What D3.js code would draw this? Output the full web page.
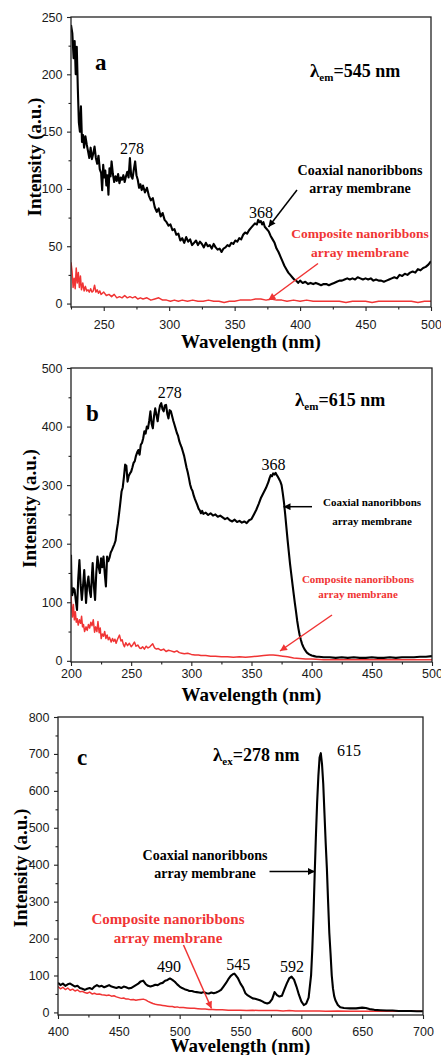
<!DOCTYPE html>
<html>
<head>
<meta charset="utf-8">
<script src="https://cdn.jsdelivr.net/npm/d3@7"></script>
<style>
  html, body { margin: 0; padding: 0; background: #fff; }
  svg { display: block; }
</style>
</head>
<body>
<svg id="chart" width="441" height="1055"></svg>
<script>
// ---------------------------------------------------------------
// Spectra: [wavelength (nm), intensity (a.u.)]
// ---------------------------------------------------------------

// (a) excitation spectra monitored at 545 nm
const excA_coaxial = [
  [225,243],[226,236],[227,214],[227.8,229],[228.6,200],[229.4,224],[230.2,188],[231,158],[231.8,150],[232.6,172],
  [233.4,141],[234.2,147],[235,136],[236,146],[237,139],[238,133],[239,127],[240,136],[241,126],[242,131],
  [243,137],[244,127],[245,122],[246,129],[247,117],[248,114],[248.8,99],[249.6,121],[250.4,110],[251.2,116],
  [252,103],[252.8,112],[253.6,95],[254.4,118],[255.2,111],[256,124],[257,113],[258,106],[259,111],[260,107],
  [261,113],[262,105],[263,110],[264,108],[265,112],[266,106],[267,111],[268,115],[269,110],[270,127],
  [271,111],[272,109],[273,117],[274,124],[275,112],[276,108],[277,101],[278,104],[279,99],[280,103],
  [281.5,97],[283,101],[284.5,94],[286,90],[287.5,92],[289,84],[290.5,80],[292,83],[293.5,76],[295,79],
  [296.5,73],[298,71],[299.5,68],[301,69],[302.5,64],[304,65],[305.5,60],[307,61],[308.5,55],[310,57],
  [311.5,53],[313,58],[314.5,54],[316,56],[317.5,51],[319,53],[320.5,55],[322,51],[323.5,54],[325,52],
  [326.5,49],[328,53],[329.5,50],[331,51],[332.5,48],[334,52],[335.5,49],[337,47],[338.5,48],[340,45],
  [341.5,48],[343,49],[344.5,51],[346,50],[347.5,53],[349,52],[350.5,55],[352,54],[353.5,57],[355,56],
  [356.5,60],[358,62],[359.5,61],[361,64],[362.5,66],[364,68],[365.5,70],[367,69],[368,73],[369,71],
  [370,72],[371,69],[372,71],[373,67],[374.5,65],[376,63],[377.5,59],[379,56],[380.5,53],[382,48],
  [383.5,45],[385,41],[386.5,37],[388,33],[389.5,30],[391,27],[392.5,25],[394,23],[395.5,21],[397,20],
  [398.5,18],[400,20],[402,18],[404,19],[406,17],[408,18],[410,17],[412,18],[414,17],[416,16],
  [418,17],[420,17],[422,16],[424,17],[426,18],[428,19],[430,20],[432,20],[434,21],[436,22],
  [438,21],[440,22],[442,21],[444,23],[446,22],[448,21],[450,22],[452,21],[454,22],[456,20],
  [458,21],[460,20],[462,20],[464,19],[466,20],[468,21],[470,22],[472,23],[474,22],[476,25],
  [478,24],[480,26],[482,25],[484,27],[486,28],[488,27],[490,30],[492,29],[494,31],[496,32],
  [498,34],[500,37]
];
const excA_composite = [
  [225,36],[225.8,28],[226.6,14],[227.4,22],[228.2,13],[229,31],[229.8,18],[230.6,27],[231.4,14],[232.2,24],
  [233,12],[234,18],[235,11],[236,15],[237,11],[238,12],[239,10],[240,13],[241,10],[242,11],
  [243,16],[244,10],[245,12],[246,9],[247,11],[248,8],[249,9],[250,10],[252,7],[254,8],
  [256,6],[258,8],[260,5],[262,6],[264,5],[266,7],[268,5],[270,6],[272,5],[274,6],
  [276,4],[278,5],[280,4],[283,5],[286,3],[289,4],[292,5],[295,3],[298,3],[301,2],
  [304,3],[307,2],[310,3],[314,2],[318,3],[322,2],[326,2],[330,3],[334,2],[338,2],
  [342,1],[346,2],[350,2],[354,3],[358,3],[362,3],[366,4],[370,4],[374,3],[378,4],
  [382,3],[386,3],[390,2],[395,3],[400,2],[405,3],[410,2],[415,2],[420,2],[425,2],
  [430,2],[435,1],[440,2],[445,2],[450,2],[455,1],[460,2],[465,2],[470,2],[475,2],
  [480,2],[485,2],[490,1],[495,2],[500,2]
];

// (b) excitation spectra monitored at 615 nm
const excB_coaxial = [
  [200,181],[200.5,120],[201,112],[202,124],[203,121],[204,103],[205,87],[206,140],[207,172],[208,130],
  [209,104],[210,128],[211,155],[212,118],[212.5,99],[213.5,130],[214.5,144],[215.5,120],[216.5,109],[217.5,150],
  [218,167],[219,128],[220,104],[221,150],[222,178],[223,160],[224,150],[225,175],[226,160],[227,178],
  [228,150],[229,127],[230,178],[231,170],[232,176],[233,185],[234,189],[235,194],[236,199],[237,205],
  [238,222],[239,235],[240,252],[241,270],[242,289],[243,296],[244,314],[245,335],[246,333],[247,306],
  [248,316],[249,320],[250,323],[251,330],[252,338],[253,341],[254,350],[255,356],[256,360],[257,352],
  [258,369],[259,372],[260,380],[261,392],[262,388],[263,400],[264,397],[265,410],[266,426],[267,405],
  [268,397],[269,418],[270,431],[271,420],[272,409],[273,425],[274,436],[275,440],[276,430],[277,426],
  [278,436],[279,437],[280,422],[281,414],[282,428],[283,426],[284,418],[285,410],[286,403],[287,396],
  [288,389],[289,384],[290,375],[291,369],[292,364],[293,357],[294,350],[295,340],[296,330],[297,322],
  [298,312],[299,301],[300,294],[301,290],[302,282],[303,276],[304,271],[305,266],[306,260],[307,257],
  [308,252],[309,256],[310,251],[312,253],[314,249],[316,252],[318,248],[320,250],[322,246],[324,248],
  [326,245],[328,242],[330,244],[332,240],[334,238],[336,241],[338,237],[340,239],[342,236],[344,238],
  [346,235],[348,240],[350,242],[352,250],[354,258],[356,268],[358,279],[360,287],[362,295],[363,300],
  [364,305],[365,312],[366,317],[367,315],[368,320],[369,318],[370,321],[371,317],[372,314],[373,310],
  [374,306],[375,300],[376,286],[377,270],[378,250],[379,228],[380,206],[381,186],[382,166],[383,149],
  [384,132],[385,115],[386,99],[387,84],[388,68],[389,55],[390,44],[391,36],[392,29],[393,24],
  [394,20],[395,17],[396,14],[398,11],[400,9],[402,8],[404,7],[406,7],[410,6],[415,6],
  [420,5],[425,6],[430,5],[435,6],[440,5],[445,5],[450,6],[455,5],[460,5],[465,6],
  [470,5],[475,6],[480,6],[485,6],[490,7],[495,7],[500,8]
];
const excB_composite = [
  [200,112],[200.6,90],[201.2,75],[202,96],[202.8,70],[203.6,84],[204.4,66],[205.2,72],[206,61],[207,70],
  [208,64],[208.8,76],[209.6,58],[210.4,62],[211.3,50],[212.5,58],[213.5,52],[214.5,62],[215.5,56],[216.5,66],
  [217.5,60],[218.5,70],[219.6,49],[220.5,58],[221.5,50],[222.4,67],[223.4,48],[224.3,56],[225.1,38],[226,46],
  [227,42],[228,50],[229,38],[230,44],[231,36],[232,40],[233.4,32],[234.5,38],[235.5,33],[236.5,37],
  [237.5,30],[238.5,36],[240.3,44],[241.5,34],[242.5,36],[243.5,28],[244.4,24],[245.5,31],[247,26],[248.5,30],
  [250,24],[251.5,28],[252.7,32],[254,25],[255.5,27],[257,22],[258.2,21],[259.5,24],[261,20],[262.5,25],
  [264,22],[265.5,24],[267.9,29],[269.5,22],[271,20],[272.5,21],[274.8,18],[277,20],[279,16],[281,18],
  [283,17],[285.8,15],[288,17],[290,14],[292,13],[294.2,12],[297,13],[300,11],[303,10],[306,10],
  [308,9],[312,9],[316,8],[320,8],[325,7],[330,7],[335,6],[340,7],[345,6],[350,7],
  [355,8],[360,9],[365,10],[368,10],[372,9],[376,8],[380,7],[385,5],[390,4],[395,3],
  [400,3],[410,2],[420,2],[430,2],[440,2],[450,2],[460,2],[470,2],[480,2],[490,2],[500,2]
];

// (c) emission spectra under 278 nm excitation
const emC_coaxial = [
  [400,80],[402,74],[404,78],[406,72],[408,76],[410,78],[412,74],[414,70],[416,72],[418,66],
  [420,64],[422,61],[424,64],[426,66],[428,63],[430,70],[432,74],[434,70],[436,72],[438,68],
  [440,71],[442,74],[444,70],[446,68],[448,66],[450,69],[452,66],[454,70],[456,68],[458,65],
  [460,66],[462,70],[464,74],[466,78],[468,84],[470,86],[472,77],[474,72],[476,70],[478,72],
  [480,75],[482,74],[484,78],[486,80],[488,86],[490,88],[492,92],[494,88],[496,83],[498,76],
  [500,70],[502,66],[504,63],[506,61],[508,58],[510,58],[512,56],[514,55],[516,54],[518,53],
  [520,55],[522,52],[524,51],[526,54],[528,52],[530,54],[532,57],[534,61],[536,70],[538,79],
  [540,90],[542,99],[544,104],[545,105],[546,101],[548,92],[550,78],[552,68],[554,52],[556,46],
  [558,42],[560,38],[562,37],[564,35],[566,33],[568,30],[570,26],[572,24],[574,27],[576,36],
  [578,55],[580,47],[582,43],[584,45],[586,62],[588,78],[590,92],[592,97],[594,89],[596,70],
  [598,48],[600,30],[602,20],[604,24],[606,40],[608,100],[609,170],[610,265],[611,377],[612,480],
  [613,570],[614,640],[615,690],[616,702],[617,672],[618,620],[619,540],[620,460],[621,390],[622,300],
  [623,215],[624,160],[625,100],[626,65],[627,44],[628,33],[630,20],[632,14],[635,12],[640,11],
  [645,11],[650,13],[653,12],[656,9],[660,7],[665,6],[670,5],[675,5],[680,4],[685,4],
  [690,4],[695,3],[700,3]
];
const emC_composite = [
  [400,70],[402,64],[404,68],[406,62],[408,66],[410,60],[412,63],[414,58],[416,61],[418,56],
  [420,57],[422,54],[424,52],[426,55],[428,50],[430,52],[432,49],[434,50],[436,48],[438,47],
  [440,46],[442,47],[444,44],[446,45],[448,42],[450,40],[452,38],[454,39],[456,36],[458,36],
  [460,34],[462,35],[464,33],[466,34],[468,35],[470,36],[472,34],[474,30],[476,27],[478,24],
  [480,22],[482,21],[484,20],[486,19],[488,18],[490,17],[492,16],[494,16],[496,14],[498,15],
  [500,13],[503,13],[506,12],[509,11],[512,11],[515,10],[518,9],[521,9],[524,8],[527,8],
  [530,7],[535,7],[540,6],[545,6],[550,6],[555,5],[560,6],[565,5],[570,5],[575,5],
  [580,5],[585,4],[590,5],[595,4],[600,4],[605,4],[610,4],[615,4],[620,3],[630,4],
  [640,3],[650,3],[660,3],[670,3],[680,3],[690,3],[700,3]
];

// Axis ticks
const aXMajor = [250, 300, 350, 400, 450, 500];
const aXMinor = [225, 275, 325, 375, 425, 475];
const aYMajor = [0, 50, 100, 150, 200, 250];
const aYMinor = [25, 75, 125, 175, 225];
const bXMajor = [200, 250, 300, 350, 400, 450, 500];
const bXMinor = [225, 275, 325, 375, 425, 475];
const bYMajor = [0, 100, 200, 300, 400, 500];
const bYMinor = [50, 150, 250, 350, 450];
const cXMajor = [400, 450, 500, 550, 600, 650, 700];
const cXMinor = [425, 475, 525, 575, 625, 675];
const cYMajor = [0, 100, 200, 300, 400, 500, 600, 700, 800];
const cYMinor = [50, 150, 250, 350, 450, 550, 650, 750];

// Text
const xTitle = "Wavelength (nm)";
const yTitle = "Intensity (a.u.)";
const coaxialLabel = ["Coaxial nanoribbons", "array membrane"];
const compositeLabel = ["Composite nanoribbons", "array membrane"];

// ---------------------------------------------------------------
const SERIF = "'Liberation Serif','Times New Roman',Times,serif";
const SANS = "'Liberation Sans',Arial,Helvetica,sans-serif";
const INK = "#000";
const RED = "#f03434";

const svg = d3.select("#chart");

const defs = svg.append("defs");
[["head-black", INK], ["head-red", RED]].forEach(([id, col]) => {
  defs.append("marker")
    .attr("id", id)
    .attr("viewBox", "0 0 10 10")
    .attr("refX", 10).attr("refY", 5)
    .attr("markerUnits", "userSpaceOnUse")
    .attr("markerWidth", 8).attr("markerHeight", 7)
    .attr("orient", "auto")
    .append("path")
    .attr("d", "M0,0 L10,5 L0,10 Z")
    .attr("fill", col);
});

const panels = [
  {
    letter: "a", box: { x0: 71, x1: 431, y0: 17, y1: 307 },
    xDomain: [225, 500], yDomain: [-3, 250],
    xMajor: aXMajor, xMinor: aXMinor, yMajor: aYMajor, yMinor: aYMinor,
    black: excA_coaxial, red: excA_composite,
    xPad: 9.2, xTitleY: 347.5, yTitleX: 40.5, yTitleY: 157,
    letterPos: [95, 70],
    lambda: { pos: [310, 77], sub: "em", rest: "=545 nm" },
    peaks: [{ t: "278", x: 132, y: 154 }, { t: "368", x: 261, y: 217.5 }],
    coax: { x: 360, y: [174.5, 192.5], size: 14 },
    comp: { x: 360, y: [238, 257], size: 13.5 },
    arrowBlack: [[297, 190], [268.5, 227]],
    arrowRed: [[318, 263.5], [268.5, 300]]
  },
  {
    letter: "b", box: { x0: 71, x1: 432, y0: 368, y1: 662 },
    xDomain: [200, 500], yDomain: [-2, 500],
    xMajor: bXMajor, xMinor: bXMinor, yMajor: bYMajor, yMinor: bYMinor,
    black: excB_coaxial, red: excB_composite,
    xPad: 3.6, xTitleY: 701, yTitleX: 35.5, yTitleY: 508.5,
    letterPos: [86, 420.5],
    lambda: { pos: [295, 406], sub: "em", rest: "=615 nm" },
    peaks: [{ t: "278", x: 169.7, y: 397.5 }, { t: "368", x: 273.5, y: 470 }],
    coax: { x: 372, y: [506, 525], size: 11 },
    comp: { x: 358, y: [582.5, 597.5], size: 11 },
    arrowBlack: [[312, 506.7], [283.5, 506.7]],
    arrowRed: [[332, 615], [280, 651]]
  },
  {
    letter: "c", box: { x0: 58, x1: 423, y0: 717, y1: 1015 },
    xDomain: [400, 700], yDomain: [-7, 800],
    xMajor: cXMajor, xMinor: cXMinor, yMajor: cYMajor, yMinor: cYMinor,
    black: emC_coaxial, red: emC_composite,
    xPad: 8.3, xTitleY: 1052, yTitleX: 26.5, yTitleY: 868,
    letterPos: [77, 765],
    lambda: { pos: [213, 761], sub: "ex", rest: "=278 nm" },
    peaks: [
      { t: "615", x: 337, y: 756 }, { t: "490", x: 169, y: 972 },
      { t: "545", x: 238.3, y: 970 }, { t: "592", x: 292, y: 971.7 }
    ],
    coax: { x: 205, y: [860, 878.3], size: 14 },
    comp: { x: 168, y: [924, 943.3], size: 15 },
    arrowBlack: [[269.5, 871.5], [315, 871.5]],
    arrowRed: [[183.5, 945], [211.5, 1008.5]]
  }
];

panels.forEach(p => {
  const { x0, x1, y0, y1 } = p.box;
  const x = d3.scaleLinear().domain(p.xDomain).range([x0, x1]);
  const y = d3.scaleLinear().domain(p.yDomain).range([y1, y0]);
  const g = svg.append("g").attr("class", "panel-" + p.letter);

  // axes: major + minor ticks, outward on bottom and left
  const styleAxis = sel => {
    sel.select(".domain").remove();
    sel.selectAll(".tick line").attr("stroke", "#222").attr("stroke-width", 1.1);
    sel.selectAll(".tick text")
      .attr("fill", "#1a1a1a")
      .style("font-family", SANS)
      .style("font-size", "12.5px");
  };
  g.append("g").attr("transform", `translate(0,${y1})`)
    .call(d3.axisBottom(x).tickValues(p.xMajor).tickSize(4).tickPadding(p.xPad).tickFormat(d3.format("d")))
    .call(styleAxis);
  g.append("g").attr("transform", `translate(0,${y1})`)
    .call(d3.axisBottom(x).tickValues(p.xMinor).tickSize(2.5).tickFormat(""))
    .call(styleAxis);
  g.append("g").attr("transform", `translate(${x0},0)`)
    .call(d3.axisLeft(y).tickValues(p.yMajor).tickSize(4).tickPadding(4.5).tickFormat(d3.format("d")))
    .call(styleAxis);
  g.append("g").attr("transform", `translate(${x0},0)`)
    .call(d3.axisLeft(y).tickValues(p.yMinor).tickSize(2.5).tickFormat(""))
    .call(styleAxis);

  // spectra
  const line = d3.line().x(d => x(d[0])).y(d => y(d[1])).curve(d3.curveLinear);
  const clipId = "clip-" + p.letter;
  defs.append("clipPath").attr("id", clipId)
    .append("rect").attr("x", x0).attr("y", y0).attr("width", x1 - x0).attr("height", y1 - y0);
  const plot = g.append("g").attr("clip-path", `url(#${clipId})`);
  plot.append("path").datum(p.red)
    .attr("d", line).attr("fill", "none")
    .attr("stroke", RED).attr("stroke-width", 1.5).attr("stroke-linejoin", "round");
  plot.append("path").datum(p.black)
    .attr("d", line).attr("fill", "none")
    .attr("stroke", INK).attr("stroke-width", 2.1).attr("stroke-linejoin", "round");

  // frame
  g.append("rect")
    .attr("x", x0).attr("y", y0).attr("width", x1 - x0).attr("height", y1 - y0)
    .attr("fill", "none").attr("stroke", "#222").attr("stroke-width", 1.3);

  // axis titles
  g.append("text")
    .attr("x", (x0 + x1) / 2).attr("y", p.xTitleY)
    .attr("text-anchor", "middle")
    .style("font-family", SERIF).style("font-weight", "bold").style("font-size", "19px")
    .text(xTitle);
  g.append("text")
    .attr("transform", `translate(${p.yTitleX},${p.yTitleY}) rotate(-90)`)
    .attr("text-anchor", "middle")
    .style("font-family", SERIF).style("font-weight", "bold").style("font-size", "19px")
    .text(yTitle);

  // panel letter
  g.append("text")
    .attr("x", p.letterPos[0]).attr("y", p.letterPos[1])
    .style("font-family", SERIF).style("font-weight", "bold").style("font-size", "23px")
    .text(p.letter);

  // monitoring / excitation wavelength
  const lam = g.append("text")
    .attr("x", p.lambda.pos[0]).attr("y", p.lambda.pos[1])
    .style("font-family", SERIF).style("font-weight", "bold").style("font-size", "18px");
  lam.append("tspan").text("λ").style("font-size", "19px");
  lam.append("tspan").attr("dy", 4).style("font-size", "11px").text(p.lambda.sub);
  lam.append("tspan").attr("dy", -4).text(p.lambda.rest);

  // peak positions
  p.peaks.forEach(pk => {
    g.append("text")
      .attr("x", pk.x).attr("y", pk.y)
      .attr("text-anchor", pk.t === "615" ? "start" : "middle")
      .style("font-family", SERIF).style("font-size", "16px")
      .text(pk.t);
  });

  // series labels
  const label = (cfg, lines, col) => {
    lines.forEach((t, i) => {
      g.append("text")
        .attr("x", cfg.x).attr("y", cfg.y[i])
        .attr("text-anchor", "middle")
        .attr("fill", col)
        .style("font-family", SERIF).style("font-weight", "bold")
        .style("font-size", cfg.size + "px")
        .text(t);
    });
  };
  label(p.coax, coaxialLabel, INK);
  label(p.comp, compositeLabel, RED);

  // pointer arrows
  const arrow = (pts, col, id) => {
    g.append("line")
      .attr("x1", pts[0][0]).attr("y1", pts[0][1])
      .attr("x2", pts[1][0]).attr("y2", pts[1][1])
      .attr("stroke", col).attr("stroke-width", 1.5)
      .attr("marker-end", `url(#${id})`);
  };
  arrow(p.arrowBlack, INK, "head-black");
  arrow(p.arrowRed, RED, "head-red");
});
</script>
</body>
</html>
